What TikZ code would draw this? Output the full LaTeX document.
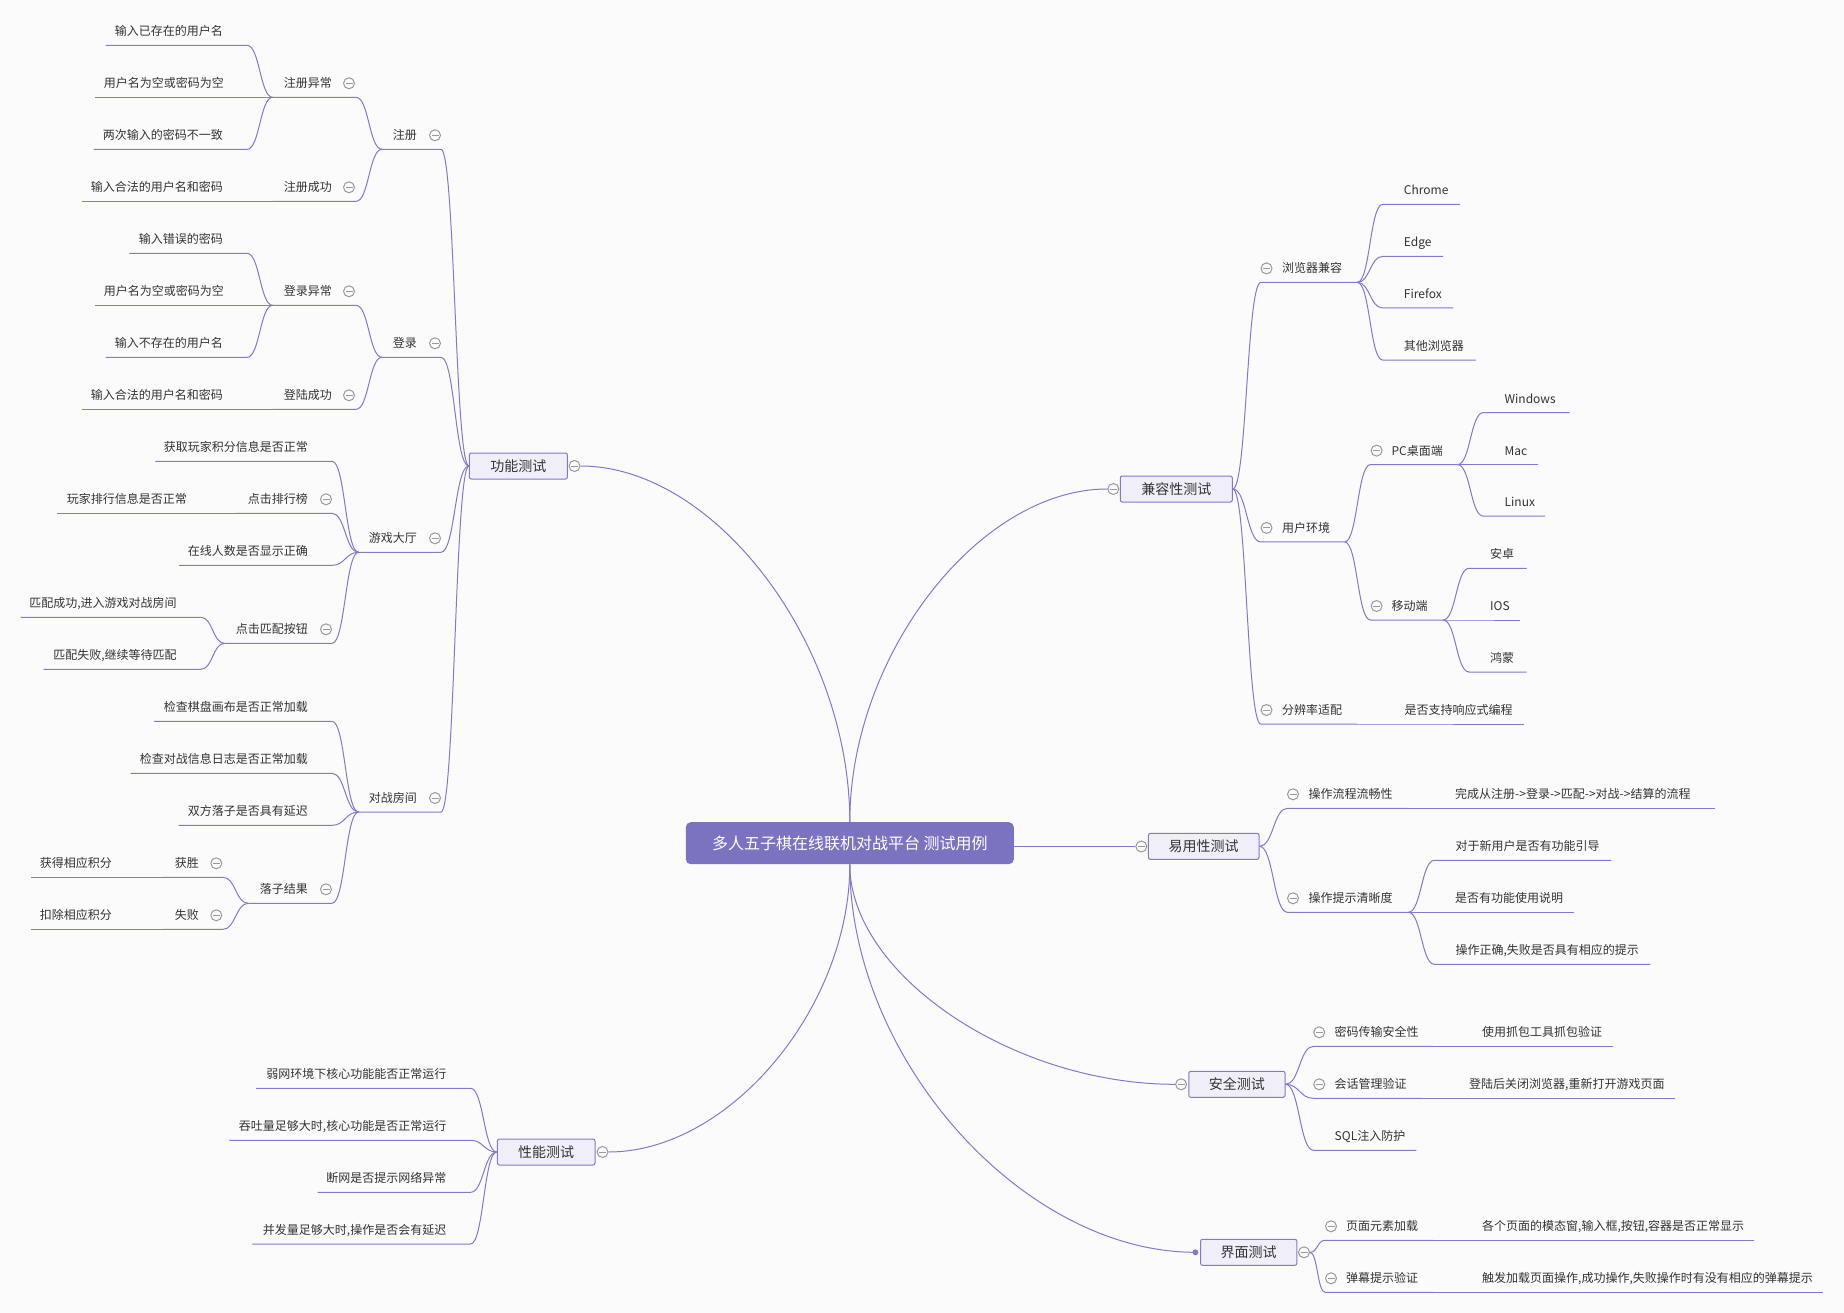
\documentclass[tikz,border=0pt]{standalone}
\usepackage{fontspec}
\setmainfont{Noto Sans CJK SC}
\usetikzlibrary{calc}
\definecolor{lc}{HTML}{8279CC}
\definecolor{rootc}{HTML}{7B73BF}
\definecolor{tf}{HTML}{EFEEF9}
\definecolor{tc}{HTML}{333333}
\definecolor{bg}{HTML}{FBFBFB}
\definecolor{btn}{HTML}{9A9A9A}
\tikzset{
 ln/.style={draw=lc, line width=1pt},
 txt/.style={font=\fontsize{12}{14}\selectfont, text=tc, inner sep=0pt, text height=10.5pt, text depth=1.5pt},
 topic/.style={draw=lc, fill=tf, rounded corners=2pt, line width=1pt, minimum height=26pt, font=\fontsize{14}{16}\selectfont, text=tc, inner sep=0pt},
 rootbox/.style={fill=rootc, rounded corners=5pt, minimum width=328pt, minimum height=42pt, font=\fontsize{16}{18}\selectfont, text=white, inner sep=0pt},
 colbtn/.style={circle, draw=btn, fill=bg, minimum size=11pt, inner sep=0pt, line width=1pt, path picture={\draw[btn, line width=1pt] ([xshift=-3.5pt]path picture bounding box.center) -- ([xshift=3.5pt]path picture bounding box.center);}},
 enddot/.style={circle, fill=lc, minimum size=6pt, inner sep=0pt},
}
\newcommand\LT[5]{\coordinate (#1L) at (#3,#5); \coordinate (#1R) at (#4,#5); \node[txt,anchor=east] (#1) at (#4-24,#5-14) {#2};}
\newcommand\RT[5]{\coordinate (#1L) at (#3,#5); \coordinate (#1R) at (#4,#5); \node[txt,anchor=west] (#1) at (#3+21,#5-14) {#2};}
\newcommand\CB[3]{\node[colbtn] (#1C) at (#2,#3-14) {};}
\newcommand\connL[2]{\path ($(#1L)!.5!(#2R)$) coordinate (mm); \draw[ln] (#1L) .. controls (mm |- #1L) and (mm |- #2R) .. (#2R) -- (#2L);}
\newcommand\connR[2]{\path ($(#1R)!.5!(#2L)$) coordinate (mm); \draw[ln] (#1R) .. controls (mm |- #1R) and (mm |- #2L) .. (#2L) -- (#2R);}
\newcommand\connM[2]{\path ($(#1)!.5!(#2)$) coordinate (mm); \draw[ln] (#1) .. controls (#1 |- mm) and (mm |- #2) .. (#2);}
\begin{document}
\begin{tikzpicture}[x=1pt,y=-1pt]
\useasboundingbox (0,0) rectangle (1844,1313);
\fill[bg] (0,0) rectangle (1844,1313);

% root and topics
\node[rootbox] (root) at (849.8,843.2) {多人五子棋在线联机对战平台 测试用例};
\node[topic, minimum width=98pt] (gn) at (518.4,466) {功能测试};
\coordinate (gnL) at (gn.west);
\node[colbtn] (gnC) at (574.5,466) {};
\node[topic, minimum width=97.6pt] (perf) at (546.2,1152) {性能测试};
\coordinate (perfL) at (perf.west);
\node[colbtn] (perfC) at (602.5,1152) {};
\node[topic, minimum width=112pt] (compat) at (1176.3,489) {兼容性测试};
\coordinate (compatR) at (compat.east);
\node[colbtn] (compatC) at (1113.3,489) {};
\node[topic, minimum width=110.6pt] (ease) at (1203.7,846.3) {易用性测试};
\coordinate (easeR) at (ease.east);
\node[colbtn] (easeC) at (1141.3,846.5) {};
\node[topic, minimum width=96.3pt] (sec) at (1236.9,1084.3) {安全测试};
\coordinate (secR) at (sec.east);
\node[colbtn] (secC) at (1181.1,1084.3) {};
\node[topic, minimum width=96.3pt] (ui) at (1248.7,1252.3) {界面测试};
\node[enddot] (uiD) at (1195.4,1252.3) {};
\node[colbtn] (uiC) at (1304,1252.3) {};
\coordinate (uiR) at (uiC.east);

% root links
\connM{root.north}{gnC.east}
\connM{root.north}{compatC.west}
\draw[ln] (root.east |- easeC) -- (easeC.west);
\connM{root.south}{perfC.east}
\connM{root.south}{secC.west}
\connM{root.south}{uiD.center}

% ---------- 功能测试 ----------
\LT{zc}{注册}{382}{441}{149.3} \CB{zc}{435}{149.3}
\LT{zcyc}{注册异常}{272.8}{356}{97.3} \CB{zcyc}{349}{97.3}
\LT{aa}{输入已存在的用户名}{105.6}{247}{45.3}
\LT{ab}{用户名为空或密码为空}{95}{248}{97.3}
\LT{ac}{两次输入的密码不一致}{93.7}{247}{149.3}
\LT{zccg}{注册成功}{272.8}{356}{201.3} \CB{zccg}{349}{201.3}
\LT{ad}{输入合法的用户名和密码}{81.5}{247}{201.3}
\LT{dl}{登录}{382}{441}{357.3} \CB{dl}{435}{357.3}
\LT{dlyc}{登录异常}{272.8}{356}{305.3} \CB{dlyc}{349}{305.3}
\LT{ba}{输入错误的密码}{129.3}{247}{253.3}
\LT{bb}{用户名为空或密码为空}{95}{248}{305.3}
\LT{bc}{输入不存在的用户名}{105.6}{247}{357.3}
\LT{dlcg}{登陆成功}{272.8}{356}{409.3} \CB{dlcg}{349}{409.3}
\LT{bd}{输入合法的用户名和密码}{81.5}{247}{409.3}
\LT{yxdt}{游戏大厅}{358.6}{441}{552.3} \CB{yxdt}{435}{552.3}
\LT{ca}{获取玩家积分信息是否正常}{155.4}{332}{461.3}
\LT{phb}{点击排行榜}{236}{332}{513.3} \CB{phb}{326}{513.3}
\LT{cb}{玩家排行信息是否正常}{57.3}{211}{513.3}
\LT{cc}{在线人数是否显示正确}{179}{332}{565.3}
\LT{ppan}{点击匹配按钮}{224.6}{332}{643.3} \CB{ppan}{326}{643.3}
\LT{cd}{匹配成功,进入游戏对战房间}{20.6}{200.9}{617.3}
\LT{ce}{匹配失败,继续等待匹配}{43.5}{200.9}{669.3}
\LT{dzfj}{对战房间}{358.6}{441}{812} \CB{dzfj}{435}{812}
\LT{da}{检查棋盘画布是否正常加载}{154.2}{332}{721.3}
\LT{db}{检查对战信息日志是否正常加载}{130.5}{332}{773.3}
\LT{dc}{双方落子是否具有延迟}{178.7}{332}{825.3}
\LT{lzjg}{落子结果}{248.3}{332}{903.3} \CB{lzjg}{326}{903.3}
\LT{hs}{获胜}{163}{223}{877.3} \CB{hs}{216.3}{877.3}
\LT{ea}{获得相应积分}{30.8}{136}{877.3}
\LT{sb}{失败}{163}{223}{929.3} \CB{sb}{216.3}{929.3}
\LT{eb}{扣除相应积分}{30.8}{136}{929.3}

\connL{gn}{zc} \connL{zc}{zcyc} \connL{zcyc}{aa} \connL{zcyc}{ab} \connL{zcyc}{ac}
\connL{zc}{zccg} \connL{zccg}{ad}
\connL{gn}{dl} \connL{dl}{dlyc} \connL{dlyc}{ba} \connL{dlyc}{bb} \connL{dlyc}{bc}
\connL{dl}{dlcg} \connL{dlcg}{bd}
\connL{gn}{yxdt} \connL{yxdt}{ca} \connL{yxdt}{phb} \connL{phb}{cb} \connL{yxdt}{cc}
\connL{yxdt}{ppan} \connL{ppan}{cd} \connL{ppan}{ce}
\connL{gn}{dzfj} \connL{dzfj}{da} \connL{dzfj}{db} \connL{dzfj}{dc}
\connL{dzfj}{lzjg} \connL{lzjg}{hs} \connL{hs}{ea} \connL{lzjg}{sb} \connL{sb}{eb}

% ---------- 性能测试 ----------
\LT{pa}{弱网环境下核心功能能否正常运行}{256.2}{470.5}{1088.3}
\LT{pb}{吞吐量足够大时,核心功能是否正常运行}{229.3}{470.5}{1140.3}
\LT{pc}{断网是否提示网络异常}{317.5}{470.5}{1192.3}
\LT{pd}{并发量足够大时,操作是否会有延迟}{252.3}{470.5}{1244}
\connL{perf}{pa} \connL{perf}{pb} \connL{perf}{pc} \connL{perf}{pd}

% ---------- 兼容性测试 ----------
\RT{llq}{浏览器兼容}{1260.8}{1357.3}{282.4} \CB{llq}{1266.5}{282.4}
\RT{fa}{Chrome}{1382.7}{1460}{204.3}
\RT{fb}{Edge}{1382.7}{1443.1}{256.4}
\RT{fc}{Firefox}{1382.7}{1453.4}{308}
\RT{fd}{其他浏览器}{1382.7}{1476}{360.1}
\RT{yhhj}{用户环境}{1260.8}{1344.6}{541.9} \CB{yhhj}{1266.5}{541.9}
\RT{pcd}{PC桌面端}{1370.4}{1457.5}{464.6} \CB{pcd}{1376.6}{464.6}
\RT{ga}{Windows}{1483.4}{1569.6}{412.5}
\RT{gb}{Mac}{1483.4}{1538}{464.6}
\RT{gc}{Linux}{1483.4}{1545}{516.2}
\RT{ydd}{移动端}{1370.4}{1443.1}{620} \CB{ydd}{1376.6}{620}
\RT{ha}{安卓}{1469}{1526.5}{568.3}
\RT{hb}{IOS}{1469}{1520.3}{620}
\RT{hc}{鸿蒙}{1469}{1526.5}{672}
\RT{fbl}{分辨率适配}{1260.8}{1357}{724} \CB{fbl}{1266.5}{724}
\RT{ia}{是否支持响应式编程}{1383.5}{1524.4}{724}
\connR{compat}{llq} \connR{llq}{fa} \connR{llq}{fb} \connR{llq}{fc} \connR{llq}{fd}
\connR{compat}{yhhj} \connR{yhhj}{pcd} \connR{pcd}{ga} \connR{pcd}{gb} \connR{pcd}{gc}
\connR{yhhj}{ydd} \connR{ydd}{ha} \connR{ydd}{hb} \connR{ydd}{hc}
\connR{compat}{fbl} \connR{fbl}{ia}

% ---------- 易用性测试 ----------
\RT{czlc}{操作流程流畅性}{1287.4}{1408}{808.3} \CB{czlc}{1293}{808.3}
\RT{ja}{完成从注册->登录->匹配->对战->结算的流程}{1434}{1715.3}{808.3}
\RT{czts}{操作提示清晰度}{1287.4}{1408.3}{912.3} \CB{czts}{1293}{912.3}
\RT{jb}{对于新用户是否有功能引导}{1434.4}{1611.4}{860.3}
\RT{jc}{是否有功能使用说明}{1434}{1574.4}{912.3}
\RT{jd}{操作正确,失败是否具有相应的提示}{1434.4}{1650.3}{964.3}
\connR{ease}{czlc} \connR{czlc}{ja} \connR{ease}{czts} \connR{czts}{jb} \connR{czts}{jc} \connR{czts}{jd}

% ---------- 安全测试 ----------
\RT{mmcs}{密码传输安全性}{1313.5}{1433}{1046.3} \CB{mmcs}{1319.2}{1046.3}
\RT{ka}{使用抓包工具抓包验证}{1461}{1613.3}{1046.3}
\RT{hhgl}{会话管理验证}{1313.5}{1421}{1098.3} \CB{hhgl}{1319.2}{1098.3}
\RT{kb}{登陆后关闭浏览器,重新打开游戏页面}{1448}{1674.5}{1098.3}
\RT{sql}{SQL注入防护}{1313.5}{1416.4}{1150.3}
\connR{sec}{mmcs} \connR{mmcs}{ka} \connR{sec}{hhgl} \connR{hhgl}{kb} \connR{sec}{sql}

% ---------- 界面测试 ----------
\RT{ymys}{页面元素加载}{1325}{1433}{1240.3} \CB{ymys}{1331}{1240.3}
\RT{la}{各个页面的模态窗,输入框,按钮,容器是否正常显示}{1461}{1753.7}{1240.3}
\RT{dmts}{弹幕提示验证}{1325}{1433}{1292.3} \CB{dmts}{1331}{1292.3}
\RT{lb}{触发加载页面操作,成功操作,失败操作时有没有相应的弹幕提示}{1461}{1822.5}{1292.3}
\connR{ui}{ymys} \connR{ymys}{la} \connR{ui}{dmts} \connR{dmts}{lb}
\end{tikzpicture}
\end{document}
